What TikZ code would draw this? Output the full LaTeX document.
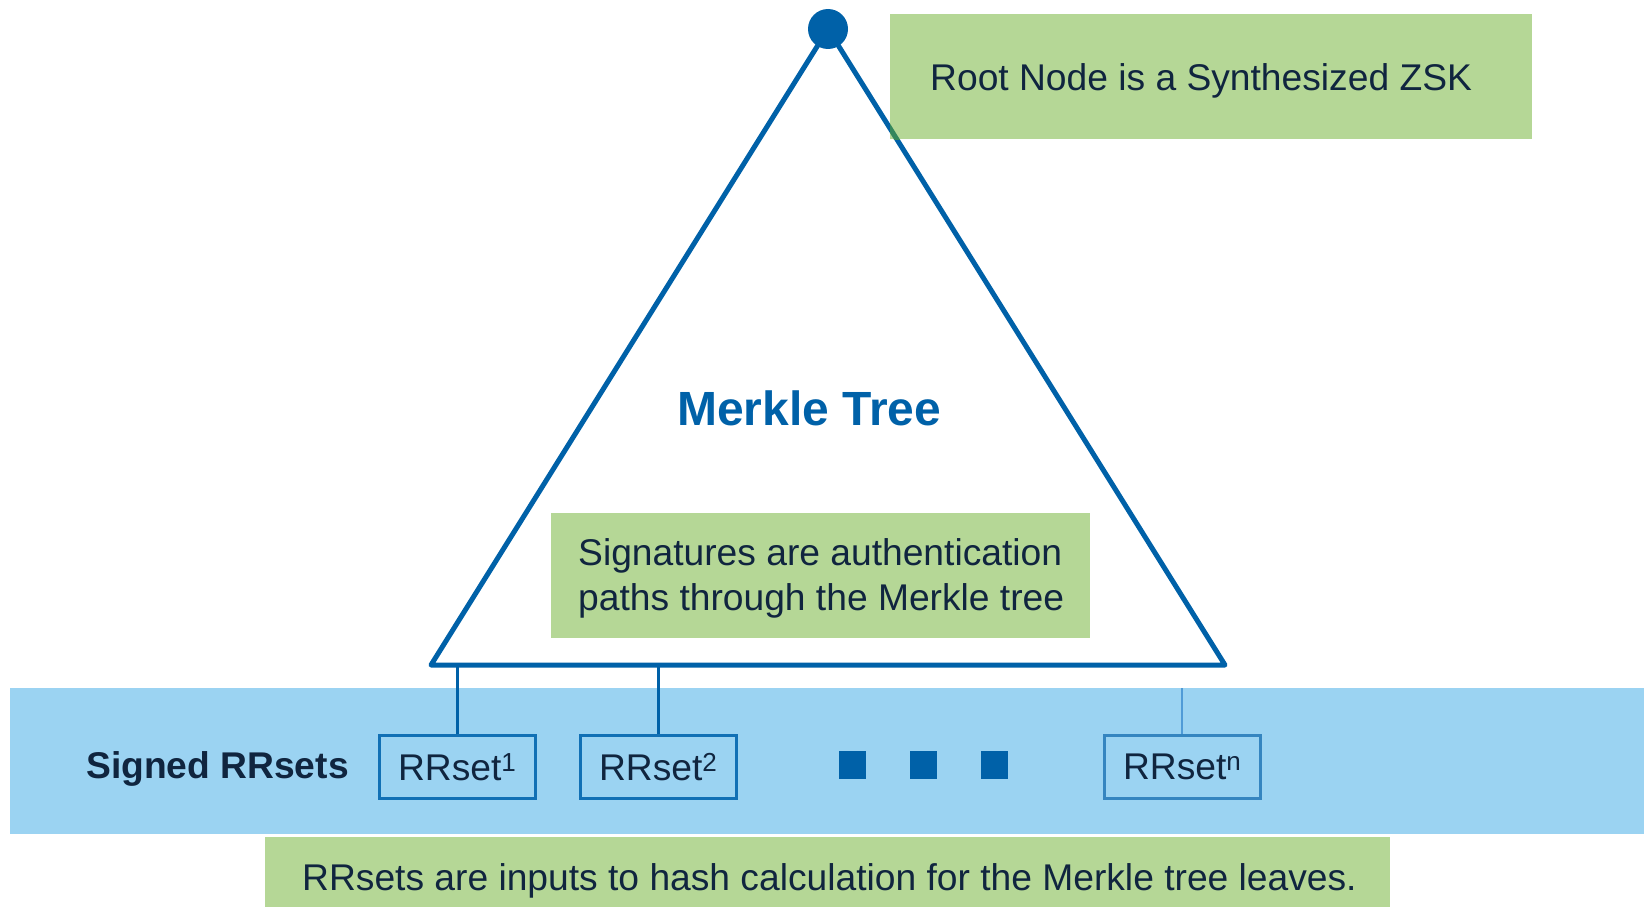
\documentclass[tikz,border=0pt]{standalone}
\usepackage{fontspec}
\setmainfont{Liberation Sans}
\usetikzlibrary{calc}

\definecolor{treeblue}{RGB}{0,97,168}
\definecolor{bandblue}{RGB}{155,211,242}
\definecolor{notegreen}{RGB}{181,215,150}
\definecolor{inkdark}{RGB}{16,37,63}
\definecolor{boxblue}{RGB}{17,112,181}
\definecolor{faintblue}{RGB}{80,155,215}
\definecolor{mixgreen}{RGB}{52,135,92}

\newcommand{\bodysize}{\fontsize{37.2}{45}\selectfont}

\tikzset{
  note/.style={fill=notegreen, draw=none, inner sep=0pt, anchor=north west},
  notetext/.style={text=inkdark, inner sep=0pt, font=\bodysize},
  tree/.style={draw=treeblue, line width=5pt, line join=round, line cap=round},
  leaf/.style={draw=boxblue, line width=2.5pt, fill=bandblue, text=inkdark,
    font=\bodysize, minimum width=156pt, minimum height=63pt, inner sep=0pt,
    anchor=north west},
  link/.style={draw=treeblue, line width=2.5pt},
  dotsq/.style={fill=treeblue, draw=none, minimum width=27pt, minimum height=28pt, inner sep=0pt}
}

\begin{document}
\begin{tikzpicture}[x=1pt, y=-1pt]
  \useasboundingbox (0,0) rectangle (1644,907);

  % band holding the leaves, and the note beneath it
  \node[fill=bandblue, inner sep=0pt, minimum width=1634pt, minimum height=146pt,
        anchor=north west] (band) at (10,688) {};
  \node[note, minimum width=1125pt, minimum height=75pt] (leafnote) at (265,837) {};
  \node[notetext, anchor=base west] (leafnotetext) at (302,890)
    {RRsets are inputs to hash calculation for the Merkle tree leaves.};

  % the tree outline
  \coordinate (apex) at (828,29);
  \coordinate (bl) at (431,665);
  \coordinate (br) at (1225,665);
  \draw[tree] (bl) -- (apex) -- (br) -- cycle;

  % note about the root, with the edge seen through it
  \node[note, minimum width=642pt, minimum height=125pt] (rootnote) at (890,14) {};
  \begin{scope}
    \clip (rootnote.north west) rectangle (rootnote.south east);
    \draw[tree, draw=mixgreen] (apex) -- (br);
  \end{scope}
  \node[notetext, anchor=base west] (roottext) at (930,91)
    {Root Node is a Synthesized ZSK};

  \node[circle, fill=treeblue, minimum size=40pt, inner sep=0pt] (root) at (apex) {};

  % title inside the tree
  \node[text=treeblue, inner sep=0pt, anchor=base west,
        font=\fontsize{48}{56}\selectfont\bfseries] (title) at (677,425) {Merkle Tree};

  % note about signatures
  \node[note, minimum width=539pt, minimum height=125pt] (signote) at (551,513) {};
  \node[notetext, anchor=base west] (sigline1) at (578,565) {Signatures are authentication};
  \node[notetext, anchor=base west] (sigline2) at (578,610) {paths through the Merkle tree};

  % leaves
  \node[text=inkdark, inner sep=0pt, anchor=base west,
        font=\bodysize\bfseries] (leaflabel) at (86,778) {Signed RRsets};
  \node[leaf] (rr1) at (378,734) {RRset\textsuperscript{1}};
  \node[leaf] (rr2) at (579,734) {RRset\textsuperscript{2}};
  \node[leaf, draw=boxblue!85!white] (rrn) at (1103,734) {RRset\textsuperscript{n}};

  \node[dotsq] (d1) at (852.5,765) {};
  \node[dotsq] (d2) at (923.5,765) {};
  \node[dotsq] (d3) at (994.5,765) {};

  % links from the tree base down to the leaves
  \draw[link] (rr1.north) -- (rr1.north |- bl);
  \draw[link] (rr2.north) -- (rr2.north |- bl);
  \draw[link, draw=faintblue, line width=2pt] (rrn.north) -- (rrn.north |- band.north);
\end{tikzpicture}
\end{document}
